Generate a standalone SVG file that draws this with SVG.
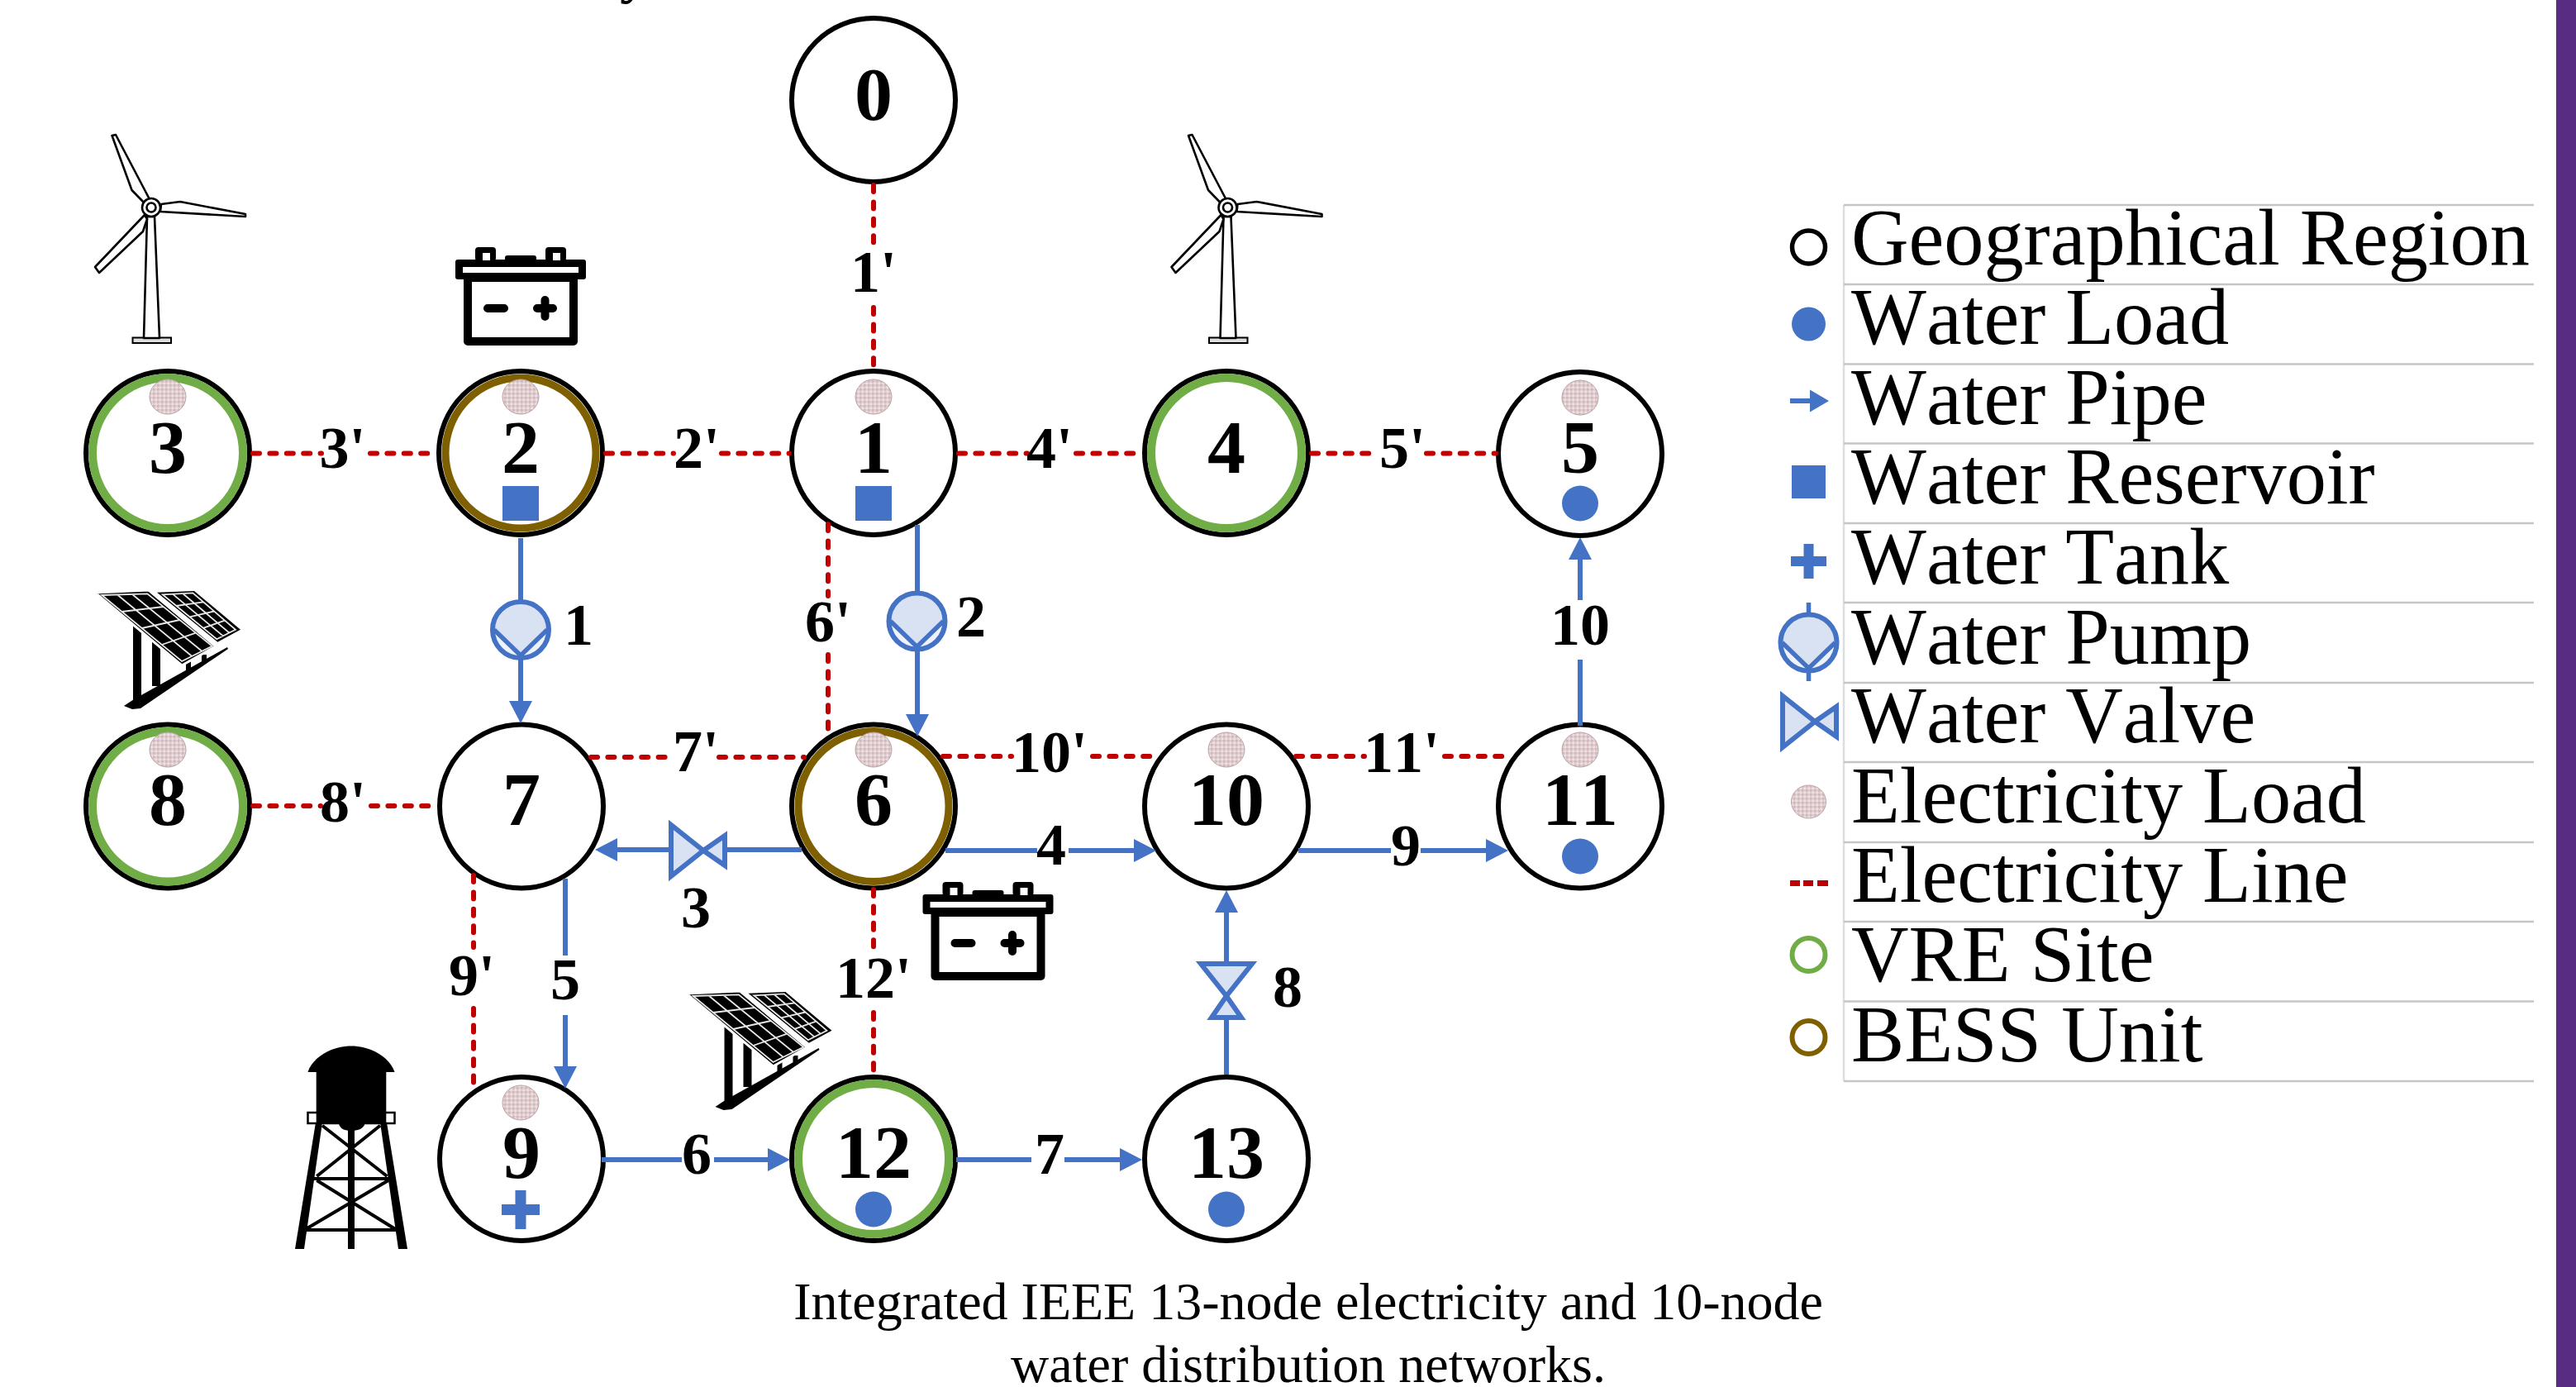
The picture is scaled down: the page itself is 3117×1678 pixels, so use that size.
<svg xmlns="http://www.w3.org/2000/svg" xmlns:xlink="http://www.w3.org/1999/xlink" width="3117" height="1678" viewBox="0 0 3117 1678">
<style>
text{font-family:"Liberation Serif","Times New Roman",serif;fill:#000;font-kerning:none}
.n{font-size:92px;font-weight:700;text-anchor:middle}
.l{font-size:72px;font-weight:700;text-anchor:middle}
.leg{font-size:96.3px}
.cap{font-size:64px;text-anchor:middle}
.node{fill:#fff;stroke:#000;stroke-width:6}
.vre{fill:none;stroke:#70AD47;stroke-width:10}
.bess{fill:none;stroke:#7F6000;stroke-width:9}
.eload{fill:url(#chk);stroke:#b9a3a5;stroke-width:1}
.wload{fill:#4472C4}
.res{fill:#4472C4}
.e{fill:none;stroke:#C00000;stroke-width:6;stroke-dasharray:8 12.4;stroke-linecap:round}
.w{fill:none;stroke:#4472C4;stroke-width:6}
.a{marker-end:url(#arr)}
.sym{fill:#D9E2F3;stroke:#4472C4;stroke-width:6}
.rule{stroke:#c6c6c6;stroke-width:2.5}
.tb{fill:#fff;stroke:#000;stroke-width:2.6;stroke-linejoin:round}
.gr{stroke:#e8e8e8;stroke-width:1.8;fill:none}
</style>
<defs>
<pattern id="chk" width="5" height="5" patternUnits="userSpaceOnUse">
<rect width="5" height="5" fill="#dfcdcf"/><rect width="2.500" height="2.500" fill="#d2b6b9"/><rect x="2.500" y="2.500" width="2.500" height="2.500" fill="#ece2e2"/>
</pattern>
<marker id="arr" markerUnits="userSpaceOnUse" markerWidth="28" markerHeight="28" refX="0" refY="14" orient="auto">
<path d="M0 0L27 14L0 28Z" fill="#4472C4"/>
</marker>
<g id="pump">
<circle r="34" fill="#EEF2FA"/>
<path d="M-33 0A33 33 0 0 1 33 0L0 31Z" fill="#D9E2F3"/>
<circle r="34" fill="none" stroke="#4472C4" stroke-width="6"/>
<path d="M-32 0L0 31L32 0" fill="none" stroke="#4472C4" stroke-width="5.500"/>
</g>
<g id="valve">
<path class="sym" d="M3 -31V31L42 0Z"/>
<path class="sym" d="M68 -18V18L42 0Z"/>
</g>
<g id="turbine">
<rect x="160.500" y="408.500" width="46.500" height="6.500" fill="#ddd" stroke="#000" stroke-width="2"/>
<path class="tb" d="M178 262L174 409H193L187 262Z"/>
<path class="tb" d="M135.500 164L140 163L182 243L175 246L159.500 230Z"/>
<path class="tb" d="M195 247L218 244L297 259L297 262L194 256Z"/>
<path class="tb" d="M175 260L115 323L120 330L173 280L178 265Z"/>
<circle cx="183" cy="251" r="11" class="tb"/>
<circle cx="183" cy="251" r="5.500" class="tb"/>
</g>
<g id="battery">
<rect x="566" y="336" width="128" height="77" fill="#fff" stroke="#000" stroke-width="10" stroke-linejoin="round"/>
<rect x="551" y="314" width="158" height="24" rx="3" fill="#000"/>
<rect x="560" y="323" width="140" height="7" fill="#fff"/>
<rect x="575" y="299" width="25" height="17" rx="4" fill="#000"/>
<rect x="660" y="299" width="25" height="17" rx="4" fill="#000"/>
<rect x="584" y="306" width="9" height="9" fill="#fff"/>
<rect x="669" y="306" width="9" height="9" fill="#fff"/>
<rect x="611" y="309" width="38" height="7" rx="3" fill="#000"/>
<path d="M590 373H610M650 373H669M659.500 363V383" stroke="#000" stroke-width="10" stroke-linecap="round" fill="none"/>
</g>
<g id="solar">
<path d="M190 716.700L235 715L291 761.700L263.300 776.700Z" fill="#000"/>
<path class="gr" d="M196.700 719.300L233.300 717.300L285 761.700L262.300 773.300ZM208.900 718.600L269.900 769.400M221.100 718L277.400 765.600M213 733L246 728.400M229.500 746.300L259.200 739.500M245.900 759.800L272 750.600"/>
<path d="M161 757H171V847H161ZM184 777H194V830H184Z" fill="#000"/>
<path d="M150 854L162 846L275 783L276 785L170 857L160 858Z" fill="#000"/>
<path d="M225 800H231V811H225ZM244 792H250V803H244Z" fill="#000"/>
<path d="M115 717L180 714L261 782L220 805Z" fill="#000" stroke="#fff" stroke-width="3"/>
<path class="gr" d="M123.300 720L178.300 718.300L256.700 781.700L220 800ZM141.700 719.300L232.300 794M160 719L244.300 787.700M147.300 740L198 734M171.700 760L217.300 750M195.700 780L237 765.700"/>
</g>
</defs>

<rect width="3117" height="1678" fill="#fff"/>
<text x="750" y="-10" font-size="70" font-weight="700">y</text>

<g id="nodes">
<g id="node-0"><circle class="node" cx="1057" cy="121" r="99"/><text class="n" x="1057" y="145">0</text></g>
<g id="node-3"><circle class="node" cx="203" cy="548" r="99"/><circle class="vre" cx="203" cy="548" r="91"/><ellipse class="eload" cx="203" cy="480" rx="22" ry="21"/><text class="n" x="203" y="572">3</text></g>
<g id="node-2"><circle class="node" cx="630" cy="548" r="99"/><circle class="bess" cx="630" cy="548" r="91"/><ellipse class="eload" cx="630" cy="480" rx="22" ry="21"/><rect class="res" x="608" y="588" width="44" height="42"/><text class="n" x="630" y="572">2</text></g>
<g id="node-1"><circle class="node" cx="1057" cy="548" r="99"/><ellipse class="eload" cx="1057" cy="480" rx="22" ry="21"/><rect class="res" x="1035" y="588" width="44" height="42"/><text class="n" x="1057" y="572">1</text></g>
<g id="node-4"><circle class="node" cx="1484" cy="548" r="99"/><circle class="vre" cx="1484" cy="548" r="91"/><text class="n" x="1484" y="572">4</text></g>
<g id="node-5"><circle class="node" cx="1912" cy="549" r="99"/><ellipse class="eload" cx="1912" cy="481" rx="22" ry="21"/><ellipse class="wload" cx="1912" cy="609" rx="22" ry="21.500"/><text class="n" x="1912" y="572">5</text></g>
<g id="node-8"><circle class="node" cx="203" cy="975.500" r="99"/><circle class="vre" cx="203" cy="975.500" r="91"/><ellipse class="eload" cx="203" cy="907" rx="22" ry="21"/><text class="n" x="203" y="998">8</text></g>
<g id="node-7"><circle class="node" cx="631" cy="975.500" r="99"/><text class="n" x="631" y="998">7</text></g>
<g id="node-6"><circle class="node" cx="1057" cy="975.500" r="99"/><circle class="bess" cx="1057" cy="975.500" r="91"/><ellipse class="eload" cx="1057" cy="907" rx="22" ry="21"/><text class="n" x="1057" y="998">6</text></g>
<g id="node-10"><circle class="node" cx="1484" cy="975.500" r="99"/><ellipse class="eload" cx="1484" cy="907" rx="22" ry="21"/><text class="n" x="1484" y="998">10</text></g>
<g id="node-11"><circle class="node" cx="1912" cy="975.500" r="99"/><ellipse class="eload" cx="1912" cy="907" rx="22" ry="21"/><ellipse class="wload" cx="1912" cy="1036" rx="22" ry="21.500"/><text class="n" x="1912" y="998">11</text></g>
<g id="node-9"><circle class="node" cx="631" cy="1402" r="99"/><ellipse class="eload" cx="630" cy="1334" rx="22" ry="21"/><path class="res" d="M623.500 1440H636.500V1457H653V1470H636.500V1487H623.500V1470H607V1457H623.500Z"/><text class="n" x="631" y="1425">9</text></g>
<g id="node-12"><circle class="node" cx="1057" cy="1402" r="99"/><circle class="vre" cx="1057" cy="1402" r="91"/><ellipse class="wload" cx="1057" cy="1463" rx="22" ry="21.500"/><text class="n" x="1057" y="1425">12</text></g>
<g id="node-13"><circle class="node" cx="1484" cy="1402" r="99"/><ellipse class="wload" cx="1484" cy="1463" rx="22" ry="21.500"/><text class="n" x="1484" y="1425">13</text></g>
</g>

<g id="connectors">
<g id="electricity-lines">
<path class="e" d="M1057 224V297M1057 372V446"/>
<path class="e" d="M306 548.500H389M448 548.500H528"/>
<path class="e" d="M733 548.500H815M873 548.500H955"/>
<path class="e" d="M1160 548.500H1243M1302 548.500H1382"/>
<path class="e" d="M1587 548.500H1666M1726 548.500H1810"/>
<path class="e" d="M1002 634V721M1002 792V888"/>
<path class="e" d="M715 916H809M870 916H973"/>
<path class="e" d="M1141 915H1224M1322 915H1400"/>
<path class="e" d="M1568 915H1651M1748 915H1829"/>
<path class="e" d="M306 975H388M449 975H530"/>
<path class="e" d="M573 1059V1146M573 1220V1316"/>
<path class="e" d="M1057 1076V1152M1057 1225V1301"/>
</g>
<g id="water-pipes">
<path class="w a" d="M630 651V848"/>
<path class="w a" d="M1110 635V864"/>
<path class="w a" d="M970 1028H747"/>
<path class="w" d="M1144 1029H1255"/><path class="w a" d="M1293 1029H1372"/>
<path class="w" d="M684 1063V1156"/><path class="w a" d="M684 1228V1290"/>
<path class="w" d="M728 1403H825"/><path class="w a" d="M864 1403H929"/>
<path class="w" d="M1157 1403H1248"/><path class="w a" d="M1288 1403H1355"/>
<path class="w a" d="M1484 1300V1104"/>
<path class="w" d="M1571 1029H1683"/><path class="w a" d="M1719 1029H1798"/>
<path class="w" d="M1912 878V798"/><path class="w a" d="M1912 726V677"/>
</g>
<g id="devices">
<use xlink:href="#pump" href="#pump" x="630" y="762"/>
<use xlink:href="#pump" href="#pump" x="1109.500" y="751.500"/>
<use xlink:href="#valve" href="#valve" transform="translate(809 1029)"/>
<use xlink:href="#valve" href="#valve" transform="translate(1484 1163) rotate(90)"/>
</g>
<g id="connector-labels">
<text class="l" x="1057" y="353">1'</text><text class="l" x="414.500" y="566">3'</text><text class="l" x="843" y="566">2'</text><text class="l" x="1270" y="566">4'</text><text class="l" x="1697" y="566">5'</text>
<text class="l" x="1002" y="776">6'</text><text class="l" x="842" y="933">7'</text><text class="l" x="415" y="994">8'</text><text class="l" x="571" y="1204">9'</text>
<text class="l" x="1270" y="934">10'</text><text class="l" x="1696" y="934">11'</text><text class="l" x="1057" y="1207">12'</text>
<text class="l" x="700" y="780">1</text><text class="l" x="1175" y="770">2</text><text class="l" x="842" y="1122">3</text><text class="l" x="1272" y="1046">4</text><text class="l" x="684" y="1209">5</text><text class="l" x="843" y="1420">6</text><text class="l" x="1270" y="1420">7</text><text class="l" x="1558" y="1218">8</text><text class="l" x="1701" y="1047">9</text><text class="l" x="1912" y="780">10</text>
</g>
</g>

<g id="icons">
<use xlink:href="#turbine" href="#turbine"/>
<use xlink:href="#turbine" href="#turbine" x="1302.500"/>
<use xlink:href="#battery" href="#battery"/>
<use xlink:href="#battery" href="#battery" x="565.500" y="768"/>
<use xlink:href="#solar" href="#solar"/>
<use xlink:href="#solar" href="#solar" x="715.500" y="485"/>
<g id="water-tower">
<path d="M357 1511L382 1358H390L368 1511ZM482 1511L460 1358H468L493 1511Z" fill="#000"/>
<rect x="421" y="1360" width="8" height="151" fill="#000"/>
<path d="M380 1426H470M370 1488H480" stroke="#000" stroke-width="4"/>
<path d="M390 1361.700L468.300 1423M460 1361.700L383.300 1423M383.300 1428L478.300 1487M470 1428L370 1487" stroke="#000" stroke-width="4"/>
<rect x="372.500" y="1346" width="105" height="13" fill="#fff" stroke="#000" stroke-width="2.500"/>
<path d="M372.500 1297C378 1280 400 1265.500 425 1265.500C450 1265.500 472 1280 477.500 1297H467.300V1359H441.700C440 1366 432 1368 425 1368C418 1368 411 1366 410 1359H382.700V1297Z" fill="#000"/>
</g>
</g>

<g id="legend">
<path class="rule" d="M2231 248V1308" stroke-opacity=".6"/>
<path class="rule" d="M2231 248H3066M2231 344H3066M2231 440.500H3066M2231 536.500H3066M2231 633H3066M2231 729H3066M2231 826H3066M2231 922H3066M2231 1019H3066M2231 1115H3066M2231 1211.500H3066M2231 1308H3066"/>
<circle cx="2188.500" cy="299" r="20" fill="#fff" stroke="#000" stroke-width="5.500"/>
<ellipse class="wload" cx="2188.500" cy="392" rx="20.500" ry="20.500"/>
<path d="M2166 485H2192" stroke="#4472C4" stroke-width="6"/><path d="M2190 471.500L2213 485L2190 498.500Z" fill="#4472C4"/>
<rect class="res" x="2168" y="563" width="41" height="40"/>
<path class="res" d="M2182.500 658H2194.500V673H2210V685H2194.500V700H2182.500V685H2167V673H2182.500Z"/>
<path d="M2188.500 729V824" stroke="#4472C4" stroke-width="5.500"/>
<use xlink:href="#pump" href="#pump" x="2188.500" y="777.500"/>
<use xlink:href="#valve" href="#valve" transform="translate(2154 873)"/>
<ellipse class="eload" cx="2188.500" cy="970" rx="21" ry="20"/>
<path d="M2166 1068.500h12M2182 1068.500h12M2199 1068.500h13" stroke="#C00000" stroke-width="7"/>
<circle cx="2188.500" cy="1155" r="20" fill="#fff" stroke="#70AD47" stroke-width="6"/>
<circle cx="2188.500" cy="1255" r="20" fill="#fff" stroke="#7F6000" stroke-width="6"/>
<text class="leg" x="2240" y="320">Geographical Region</text>
<text class="leg" x="2240" y="416">Water Load</text>
<text class="leg" x="2240" y="512.500">Water Pipe</text>
<text class="leg" x="2240" y="609">Water Reservoir</text>
<text class="leg" x="2240" y="706">Water Tank</text>
<text class="leg" x="2240" y="803">Water Pump</text>
<text class="leg" x="2240" y="898">Water Valve</text>
<text class="leg" x="2240" y="994.500">Electricity Load</text>
<text class="leg" x="2240" y="1091">Electricity Line</text>
<text class="leg" x="2240" y="1187">VRE Site</text>
<text class="leg" x="2240" y="1284">BESS Unit</text>
</g>

<text class="cap" x="1583" y="1596">Integrated IEEE 13-node electricity and 10-node</text>
<text class="cap" x="1583" y="1672">water distribution networks.</text>
<rect x="3093" y="0" width="24" height="1678" fill="#582C83"/>
</svg>
